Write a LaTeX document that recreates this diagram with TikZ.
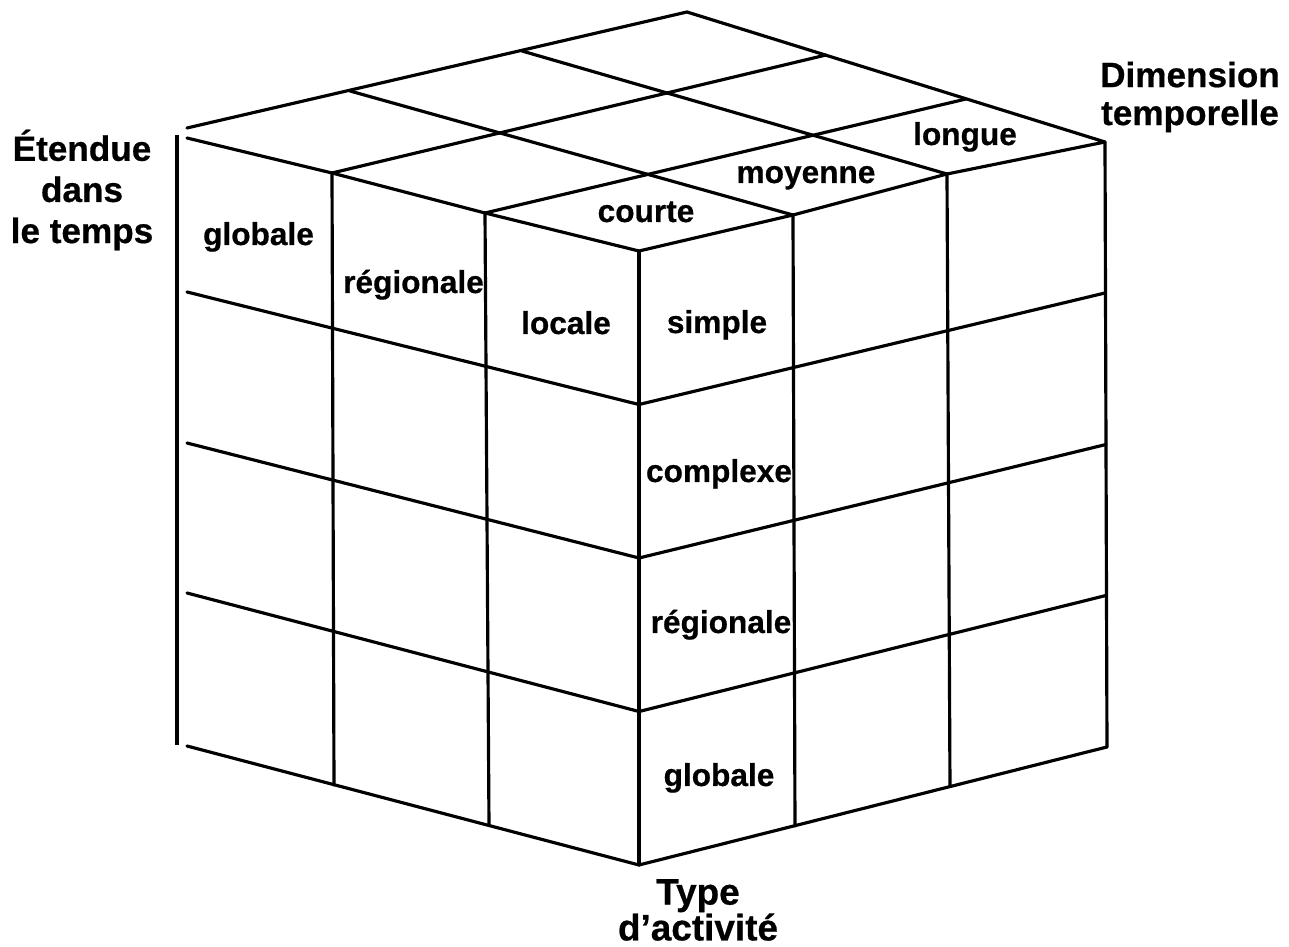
\documentclass[tikz,border=0pt]{standalone}
\usepackage{fontspec}
\setmainfont{Liberation Sans}[FakeBold=0.6]
\usepackage{tikz}

\begin{document}
\begin{tikzpicture}[x=1cm, y=-1cm,
    edge/.style={line width=0.9pt, line join=round, line cap=round},
    cell/.style={font=\bfseries\fontsize{9}{10.8}\selectfont, anchor=base, inner sep=0pt},
    axis/.style={font=\bfseries\fontsize{10}{11.7}\selectfont, align=center, inner sep=0pt}]
    \useasboundingbox (0,0) rectangle (12.89,9.47);

    % Top face
    \draw[edge] (1.87,1.28) -- (6.87,0.12) -- (11.05,1.42) -- (9.47,1.74) -- (7.93,2.15) -- (6.39,2.51)
        -- (4.85,2.13) -- (3.32,1.73) -- (1.87,1.38);
    \draw[edge] (3.50,0.91) -- (7.93,2.15);
    \draw[edge] (5.22,0.51) -- (9.47,1.74);
    \draw[edge] (4.85,2.13) -- (9.66,0.99);
    \draw[edge] (3.32,1.73) -- (8.26,0.55);

    % Left face (etendue)
    \draw[edge] (3.32,1.73) -- (3.34,7.85);
    \draw[edge] (4.85,2.13) -- (4.89,8.25);
    \draw[edge] (6.39,2.51) -- (6.39,8.65);
    \draw[edge] (1.87,2.92) -- (6.39,4.045);
    \draw[edge] (1.87,4.43) -- (6.39,5.58);
    \draw[edge] (1.87,5.93) -- (6.39,7.115);
    \draw[edge] (1.87,7.46) -- (6.39,8.65);

    % Right face (type d'activite)
    \draw[edge] (7.93,2.15) -- (7.95,8.26);
    \draw[edge] (9.47,1.74) -- (9.50,7.86);
    \draw[edge] (11.05,1.42) -- (11.07,7.47);
    \draw[edge] (6.39,4.045) -- (11.05,2.93);
    \draw[edge] (6.39,5.58) -- (11.06,4.445);
    \draw[edge] (6.39,7.115) -- (11.06,5.955);
    \draw[edge] (6.39,8.65) -- (11.07,7.47);

    % Axis bar on the left
    \draw[line width=1.3pt] (1.77,1.35) -- (1.77,7.45);

    % Axis titles
    \node[axis] (etendue) at (0.82,1.90) {Étendue\\dans\\le temps};
    \node[axis, font=\bfseries\fontsize{10}{10.8}\selectfont] (dimension) at (11.90,0.97) {Dimension\\temporelle};
    \node[axis, font=\bfseries\fontsize{10.5}{10.2}\selectfont] (typeact) at (6.98,9.10) {Type\\d’activité};

    % Labels on the left face
    \node[cell] (globaleL) at (2.585,2.45) {globale};
    \node[cell] (regionaleL) at (4.135,2.93) {régionale};
    \node[cell] (locale) at (5.66,3.34) {locale};

    % Labels on the top face
    \node[cell] (courte) at (6.46,2.22) {courte};
    \node[cell] (moyenne) at (8.06,1.83) {moyenne};
    \node[cell] (longue) at (9.65,1.45) {longue};

    % Labels on the right face
    \node[cell] (simple) at (7.17,3.33) {simple};
    \node[cell] (complexe) at (7.19,4.82) {complexe};
    \node[cell] (regionaleR) at (7.21,6.33) {régionale};
    \node[cell] (globaleR) at (7.19,7.86) {globale};
\end{tikzpicture}
\end{document}
